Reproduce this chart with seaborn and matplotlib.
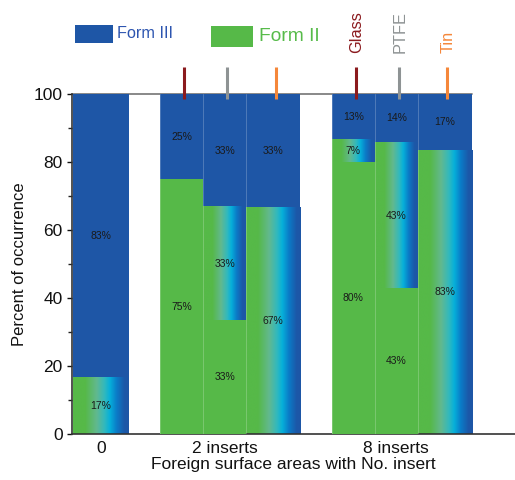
import matplotlib
matplotlib.use("Agg")
import matplotlib.pyplot as plt
import numpy as np
import pandas as pd
import seaborn as sns
from matplotlib.colors import LinearSegmentedColormap
from matplotlib.patches import Rectangle

# data (percent of occurrence, bottom to top: Form II, mixed, Form III)
groups = ["0", "2 inserts", "2 inserts", "2 inserts", "8 inserts", "8 inserts", "8 inserts"]
surfaces = ["", "Glass", "PTFE", "Tin", "Glass", "PTFE", "Tin"]
form_iii = [83.3, 25.0, 33.3, 33.3, 13.3, 14.3, 16.7]
mixed = [16.7, 0.0, 33.3, 66.7, 6.7, 42.9, 83.3]
form_ii = [0.0, 75.0, 33.4, 0.0, 80.0, 42.8, 0.0]
tick_labels = ["0", "2 inserts", "8 inserts"]
surface_names = ["Glass", "PTFE", "Tin"]
surface_colors = ["#8B1A1E", "#8E9394", "#F5873A"]

BLUE = "#1E56A6"
GREEN = "#56B948"
mix_cmap = LinearSegmentedColormap.from_list(
    "mix",
    [(0.0, GREEN), (0.22, GREEN), (0.42, "#62B88E"), (0.56, "#33B9BC"),
     (0.66, "#06B0DA"), (0.78, "#0A7CC8"), (0.92, "#1C58A8"), (1.0, BLUE)],
)

# layout: bar widths and gaps between groups (in axis units)
widths = np.array([1.29, 1.0, 1.0, 1.26, 1.0, 1.0, 1.26])
GAP = 0.73
lefts = []
x = 0.03
for i, g in enumerate(groups):
    if i > 0 and g != groups[i - 1]:
        x += GAP
    lefts.append(x)
    x += widths[i]
lefts = np.array(lefts)
centers = lefts + widths / 2

df = pd.DataFrame({
    "group": groups,
    "surface": surfaces,
    "form_iii": form_iii,
    "mixed": mixed,
    "form_ii": form_ii,
    "center": centers,
    "total": [100.0] * len(groups),
})

sns.set_style("ticks")
plt.rcParams["font.family"] = ["Liberation Sans", "DejaVu Sans"]

fig = plt.figure(figsize=(5.15, 4.8), dpi=100)
ax = fig.add_axes([72 / 515, 46 / 480, 443 / 515, 340 / 480])


def place_bars(start, zorder):
    for patch, left, w in zip(ax.patches[start:], lefts, widths):
        patch.set_x(left)
        patch.set_width(w)
        patch.set_zorder(zorder)


# Form III (full height, overdrawn below)
n0 = len(ax.patches)
sns.barplot(data=df, x="center", y="total", native_scale=True, orient="x",
            color=BLUE, saturation=1, errorbar=None, width=1, linewidth=0, ax=ax)
place_bars(n0, 1)

# mixed region as horizontal gradient
grad = np.linspace(0, 1, 256)[None, :]
for left, w, f2, mx in zip(lefts, widths, df["form_ii"], df["mixed"]):
    if mx > 0:
        ax.imshow(grad, cmap=mix_cmap, extent=(left, left + w, f2, f2 + mx),
                  aspect="auto", interpolation="bilinear", zorder=2)

# Form II
n0 = len(ax.patches)
sns.barplot(data=df, x="center", y="form_ii", native_scale=True, orient="x",
            color=GREEN, saturation=1, errorbar=None, width=1, linewidth=0, ax=ax)
place_bars(n0, 3)

# thin separators between bars
for left in lefts[1:]:
    ax.plot([left, left], [0, 100], color="white", alpha=0.25, lw=0.6, zorder=4)

# segment labels
for c, f2, mx, f3 in zip(centers, df["form_ii"], df["mixed"], df["form_iii"]):
    bottom = 0.0
    for v in (f2, mx, f3):
        if v > 0:
            ax.text(c, bottom + v / 2, f"{round(v)}%", ha="center", va="center",
                    fontsize=7.5, color="#1a1a1a", zorder=6)
        bottom += v

# surface markers above bars
color_of = dict(zip(surface_names, surface_colors))
for i, (c, s) in enumerate(zip(centers, surfaces)):
    if s:
        ax.plot([c + 0.06, c + 0.06], [98.5, 108], color=color_of[s], lw=2.2,
                clip_on=False, zorder=7, solid_capstyle="butt")
        if groups[i] == groups[-1]:
            ax.text(c + 0.08, 112.2, s, rotation=90, ha="center", va="bottom",
                    fontsize=11.8, color=color_of[s], clip_on=False)

# top frame line ending at the last bar
ax.plot([0, lefts[-1] + widths[-1]], [100, 100], color="#7f7f7f", lw=1.3,
        zorder=0.5, clip_on=False)

# axes
tick_pos = []
for g in tick_labels:
    idx = [i for i, gg in enumerate(groups) if gg == g]
    tick_pos.append(centers[idx[len(idx) // 2]])
ax.set_xlim(0, 443 / 43)
ax.set_ylim(0, 100)
ax.set_xticks(tick_pos, tick_labels, fontsize=12.5)
ax.set_yticks([0, 20, 40, 60, 80, 100])
ax.set_yticks([10, 30, 50, 70, 90], minor=True)
ax.tick_params(axis="x", length=0, pad=5, colors="#111111")
ax.tick_params(axis="y", which="major", length=3.8, width=1, pad=3, labelsize=12.5,
               colors="#111111")
ax.tick_params(axis="y", which="minor", length=3, width=1, colors="#222222")
ax.set_xlabel("Foreign surface areas with No. insert", fontsize=12.5, labelpad=1,
              color="#111111")
ax.set_ylabel("Percent of occurrence", fontsize=12, labelpad=5, color="#111111")
ax.spines["top"].set_visible(False)
ax.spines["right"].set_visible(False)
for sp in ("left", "bottom"):
    ax.spines[sp].set_color("#333333")
    ax.spines[sp].set_linewidth(1.2)

# legend drawn in figure pixels
W, H = 515, 480


def fig_rect(x0, y0, x1, y1, color):
    fig.add_artist(Rectangle((x0 / W, 1 - y1 / H), (x1 - x0) / W, (y1 - y0) / H,
                             transform=fig.transFigure, color=color, lw=0))


fig_rect(75, 25, 113, 43, BLUE)
fig.text(117 / W, 1 - 34 / H, "Form III", fontsize=11.7, color="#2D55B0",
         ha="left", va="center")
fig_rect(211, 26, 253, 47, GREEN)
fig.text(259 / W, 1 - 36.5 / H, "Form II", fontsize=13.8, color="#57BB4A",
         ha="left", va="center")

fig.savefig("out.png", dpi=100)
